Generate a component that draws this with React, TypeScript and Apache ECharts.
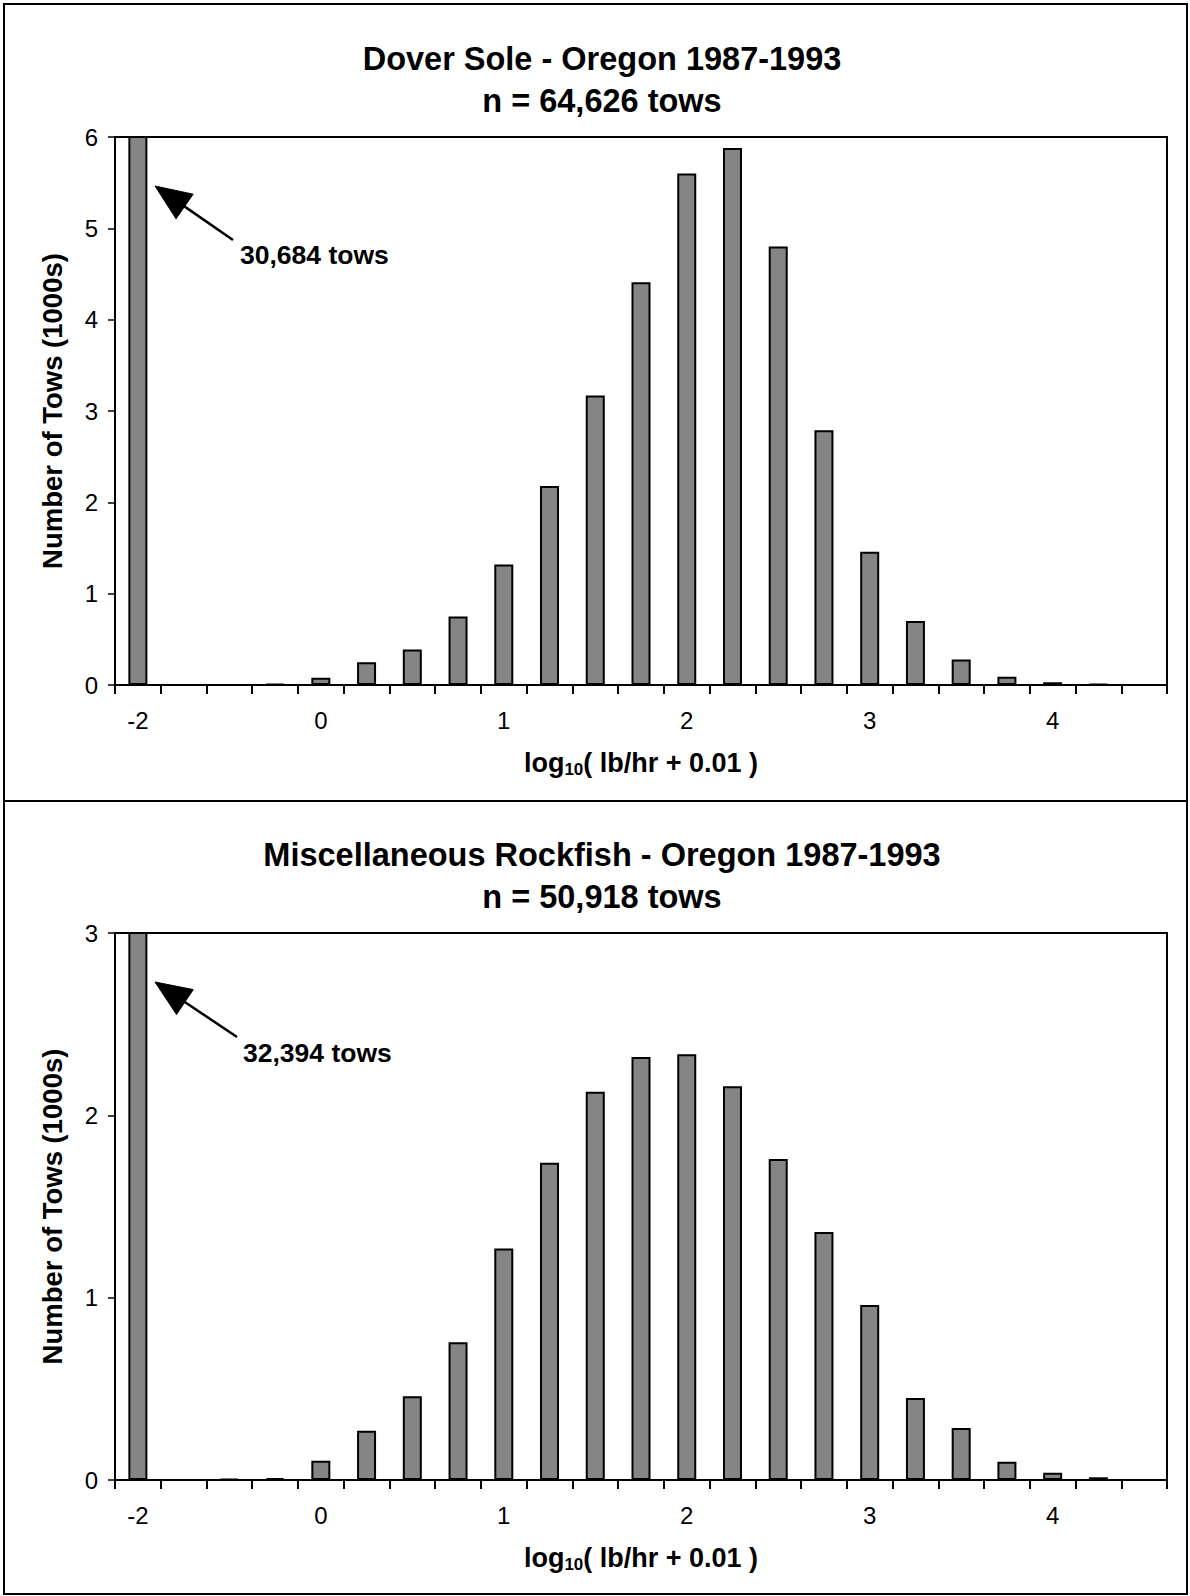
import React, { useEffect, useRef } from "react";
import * as echarts from "echarts";

// log10(lb/hr + 0.01) bins; the first bin (-2) holds the zero-catch tows
const categories = [
  "-2", "-0.75", "-0.5", "-0.25", "0", "0.25", "0.5", "0.75", "1", "1.25", "1.5",
  "1.75", "2", "2.25", "2.5", "2.75", "3", "3.25", "3.5", "3.75", "4", "4.25", "4.5",
];
const shownLabels = ["-2", "0", "1", "2", "3", "4"];

// Number of tows (1000s)
const doverSole = [
  30.684, 0, 0, 0.01, 0.08, 0.25, 0.39, 0.75, 1.32, 2.18, 3.17,
  4.41, 5.6, 5.88, 4.8, 2.79, 1.46, 0.7, 0.28, 0.09, 0.03, 0.01, 0,
];
const miscRockfish = [
  32.394, 0, 0.005, 0.01, 0.105, 0.27, 0.46, 0.755, 1.27, 1.74, 2.13,
  2.32, 2.335, 2.16, 1.76, 1.36, 0.96, 0.45, 0.285, 0.1, 0.04, 0.015, 0,
];

const title1 = "Dover Sole - Oregon 1987-1993\nn = 64,626 tows";
const title2 = "Miscellaneous Rockfish - Oregon 1987-1993\nn = 50,918 tows";
const note1 = "30,684 tows";
const note2 = "32,394 tows";
const yMax1 = 6;
const yMax2 = 3;
const yName = "Number of Tows (1000s)";

const FONT = "'Liberation Sans', Arial, Helvetica, sans-serif";

function arrow(tip: number[], end: number[], textPos: number[], text: string) {
  const dx = end[0] - tip[0];
  const dy = end[1] - tip[1];
  const len = Math.sqrt(dx * dx + dy * dy);
  const ux = dx / len;
  const uy = dy / len;
  const headLen = 36;
  const half = 15;
  const bx = tip[0] + ux * headLen;
  const by = tip[1] + uy * headLen;
  return [
    {
      type: "polygon",
      shape: {
        points: [
          [tip[0], tip[1]],
          [bx - uy * half, by + ux * half],
          [bx + uy * half, by - ux * half],
        ],
      },
      style: { fill: "#000", stroke: "#000" },
      z: 100,
    },
    {
      type: "line",
      shape: { x1: bx - ux * 2, y1: by - uy * 2, x2: end[0], y2: end[1] },
      style: { stroke: "#000", lineWidth: 2.5 },
      z: 100,
    },
    {
      type: "text",
      x: textPos[0],
      y: textPos[1],
      style: {
        text,
        fill: "#000",
        font: `bold 26.5px ${FONT}`,
        textAlign: "left",
        textVerticalAlign: "middle",
      },
      z: 100,
    },
  ];
}

function makeX(gridIndex: number) {
  return {
    type: "category",
    gridIndex,
    data: categories,
    boundaryGap: true,
    axisLine: { lineStyle: { color: "#000", width: 2 } },
    axisTick: { show: true, interval: 0, length: 9, lineStyle: { color: "#000", width: 2 } },
    axisLabel: {
      interval: 3,
      margin: 23,
      color: "#000",
      fontSize: 24,
      fontFamily: FONT,
      formatter: (v: string) => (shownLabels.includes(v) ? v : ""),
    },
    name: "{a|log}{b|10}{a|( lb/hr + 0.01 )}",
    nameLocation: "middle",
    nameGap: 63,
    nameTextStyle: {
      rich: {
        a: { fontSize: 27, fontWeight: "bold", fontFamily: FONT, color: "#000", lineHeight: 30 },
        b: {
          fontSize: 17,
          fontWeight: "bold",
          fontFamily: FONT,
          color: "#000",
          lineHeight: 17,
          verticalAlign: "bottom",
        },
      },
    },
  };
}

function makeY(gridIndex: number, max: number) {
  return {
    type: "value",
    gridIndex,
    min: 0,
    max,
    interval: 1,
    splitLine: { show: false },
    axisLine: { show: true, lineStyle: { color: "#000", width: 2 } },
    axisTick: { show: true, length: 7, lineStyle: { color: "#000", width: 1.5 } },
    axisLabel: { margin: 17, color: "#000", fontSize: 24, fontFamily: FONT },
    name: yName,
    nameLocation: "middle",
    nameGap: 49,
    nameTextStyle: { fontSize: 27.5, fontWeight: "bold", fontFamily: FONT, color: "#000" },
  };
}

function makeSeries(idx: number, data: number[]) {
  return {
    type: "bar",
    xAxisIndex: idx,
    yAxisIndex: idx,
    data,
    barWidth: 19,
    clip: true,
    itemStyle: { color: "#858585", borderColor: "#000", borderWidth: 2 },
  };
}

export default function App() {
  const ref = useRef<HTMLDivElement>(null);
  useEffect(() => {
    if (!ref.current) return;
    const chart = echarts.init(ref.current, null, { renderer: "svg" });
    const titleStyle = {
      fontSize: 32.5,
      fontWeight: "bold",
      fontFamily: FONT,
      color: "#000",
      lineHeight: 42,
    };
    chart.setOption({
      animation: false,
      backgroundColor: "#fff",
      title: [
        { text: title1, left: 597, top: 33, textAlign: "center", textStyle: titleStyle },
        { text: title2, left: 597, top: 829, textAlign: "center", textStyle: titleStyle },
      ],
      grid: [
        { left: 115, top: 137, width: 1052, height: 548, show: true, borderColor: "#000", borderWidth: 2, backgroundColor: "transparent" },
        { left: 115, top: 933, width: 1052, height: 547, show: true, borderColor: "#000", borderWidth: 2, backgroundColor: "transparent" },
      ],
      xAxis: [makeX(0), makeX(1)],
      yAxis: [makeY(0, yMax1), makeY(1, yMax2)],
      series: [makeSeries(0, doverSole), makeSeries(1, miscRockfish)],
      graphic: [
        {
          type: "rect",
          shape: { x: 4, y: 4, width: 1183, height: 797 },
          style: { fill: "none", stroke: "#000", lineWidth: 2 },
          silent: true,
        },
        {
          type: "rect",
          shape: { x: 4, y: 801, width: 1183, height: 793 },
          style: { fill: "none", stroke: "#000", lineWidth: 2 },
          silent: true,
        },
        ...arrow([155, 186], [233, 240], [240, 255], note1),
        ...arrow([155, 982], [237, 1037], [243, 1053], note2),
      ],
    });
    return () => chart.dispose();
  }, []);
  return (
    <div
      ref={ref}
      style={{ position: "absolute", left: 0, top: 0, width: 1190, height: 1596 }}
    />
  );
}
